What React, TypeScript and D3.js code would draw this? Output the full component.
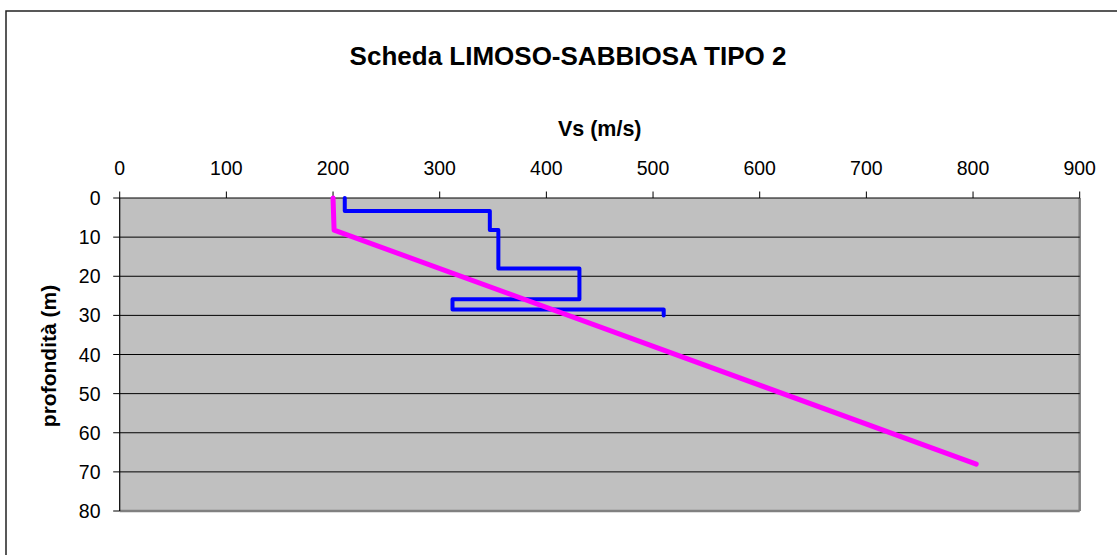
import { line as d3Line, range, scaleLinear } from "d3"

// profilo misurato (blu)
const measuredVs = [211, 211, 347, 347, 355, 355, 431, 431, 312, 312, 510, 510]
const measuredDepth = [0, 3.3, 3.3, 8.2, 8.2, 18, 18, 25.9, 25.9, 28.5, 28.5, 30]

// profilo di riferimento (magenta)
const refVs = [200, 201, 803]
const refDepth = [0, 8.2, 68]

const xTicks = range(0, 901, 100)
const yTicks = range(0, 81, 10)

const W = 1117
const H = 555
const font = "'Liberation Sans', Arial, sans-serif"

export default function App() {
  const x = scaleLinear().domain([0, 900]).range([119.7, 1079.7])
  const y = scaleLinear().domain([0, 80]).range([198, 511])

  const pathOf = (vs: number[], depth: number[]) =>
    d3Line<number>()
      .x((v) => x(v))
      .y((_, i) => y(depth[i]))(vs) ?? ""

  const [x0, x1] = x.range()
  const [y0, y1] = y.range()

  return (
    <svg
      width={W}
      height={H}
      style={{ position: "fixed", left: 0, top: 0, background: "#fff" }}
      fontFamily={font}
    >
      <rect x={6} y={11} width={W + 20} height={H + 20} fill="#fff" stroke="#222" strokeWidth={1.5} />

      <text x={568} y={65} textAnchor="middle" fontSize={26} fontWeight="bold">
        Scheda LIMOSO-SABBIOSA TIPO 2
      </text>

      <rect x={x0} y={y0} width={x1 - x0} height={y1 - y0} fill="#c0c0c0" />
      {/* bordo area del tracciato */}
      <line x1={x1} x2={x1} y1={y0} y2={y1} stroke="#808080" strokeWidth={2.5} />
      <line x1={x0} x2={x1} y1={y1} y2={y1} stroke="#808080" strokeWidth={2.5} />

      {yTicks.slice(1, -1).map((t) => (
        <line key={t} x1={x0} x2={x1} y1={y(t)} y2={y(t)} stroke="#000" strokeWidth={1} />
      ))}

      {/* asse x in alto */}
      <line x1={x0} x2={x1} y1={y0} y2={y0} stroke="#000" strokeWidth={1.2} />
      {xTicks.map((t) => (
        <g key={t}>
          <line x1={x(t)} x2={x(t)} y1={y0} y2={y0 - 6.5} stroke="#000" strokeWidth={1} />
          <text x={x(t)} y={174.5} textAnchor="middle" fontSize={19.5}>
            {t}
          </text>
        </g>
      ))}
      <text x={(x0 + x1) / 2} y={135.5} textAnchor="middle" fontSize={21.5} fontWeight="bold">
        Vs (m/s)
      </text>

      {/* asse y */}
      <line x1={x0} x2={x0} y1={y0} y2={y1} stroke="#000" strokeWidth={1.2} />
      {yTicks.map((t) => (
        <g key={t}>
          <line x1={x0 - 6.5} x2={x0} y1={y(t)} y2={y(t)} stroke="#000" strokeWidth={1} />
          <text x={100.5} y={y(t) + 7} textAnchor="end" fontSize={19.5}>
            {t}
          </text>
        </g>
      ))}
      <text
        transform={`translate(56,356) rotate(-90)`}
        textAnchor="middle"
        fontSize={21}
        fontWeight="bold"
      >
        profondità (m)
      </text>

      <path d={pathOf(measuredVs, measuredDepth)} fill="none" stroke="#0000ff" strokeWidth={4} strokeLinejoin="round" strokeLinecap="round" />
      <path d={pathOf(refVs, refDepth)} fill="none" stroke="#ff00ff" strokeWidth={5} strokeLinejoin="round" strokeLinecap="round" />
    </svg>
  )
}
